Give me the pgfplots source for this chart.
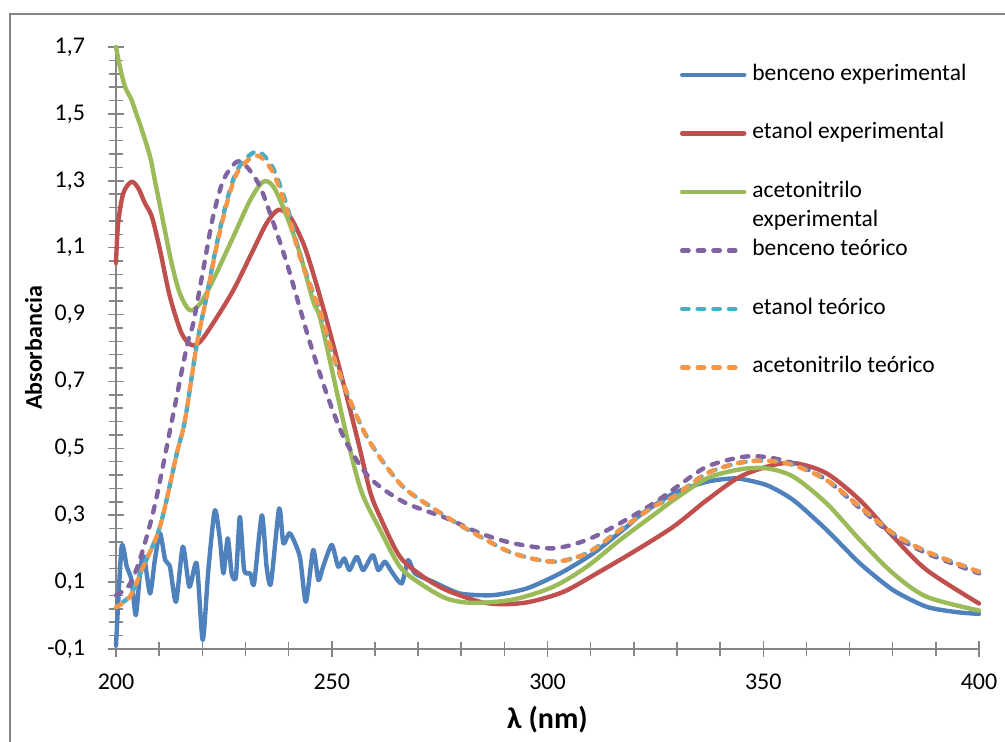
\documentclass[border=0pt]{standalone}
\usepackage{fontspec}
\setmainfont{Carlito}
\usepackage{pgfplots}
\pgfplotsset{compat=1.18}

\definecolor{cblue}{HTML}{4F81BD}
\definecolor{cred}{HTML}{C0504D}
\definecolor{cgreen}{HTML}{9BBB59}
\definecolor{cpurple}{HTML}{8064A2}
\definecolor{cteal}{HTML}{4BACC6}
\definecolor{corange}{HTML}{F79646}
\definecolor{axgray}{HTML}{868686}

\newcommand{\tickfont}{\fontsize{12bp}{14bp}\selectfont}
\newcommand{\legfont}{\fontsize{11.75bp}{14bp}\selectfont}

\begin{document}
\begin{tikzpicture}
% page = 1005x742 px at 0.5bp per px, origin at the axis corner
\path[use as bounding box] (-58bp,-46.5bp) rectangle (444.5bp,324.5bp);
\draw[axgray, line width=0.75bp] (-53bp,-47bp) -- (-53bp,317.5bp) -- (445bp,317.5bp);

\begin{axis}[
    at={(0bp,0bp)}, anchor=south west,
    scale only axis, width=431.5bp, height=301bp,
    xmin=200, xmax=400, ymin=-0.1, ymax=1.7,
    clip=false,
    axis x line*=bottom, axis y line*=left,
    axis line style={draw=axgray, line width=0.75bp},
    tick style={draw=axgray, line width=0.75bp},
    tick align=center,
    major tick length=8bp, minor tick length=7bp,
    xtick={200,250,300,350,400}, minor x tick num=4,
    ytick={-0.1,0.1,0.3,0.5,0.7,0.9,1.1,1.3,1.5,1.7}, minor y tick num=4,
    tick label style={font=\tickfont},
    /pgf/number format/assume math mode=true,
    xticklabel style={yshift=-5bp},
    yticklabel style={xshift=-8bp, /pgf/number format/.cd, fixed, fixed zerofill, precision=1, use comma},
    xlabel={λ (nm)},
    xlabel style={font=\fontsize{15bp}{17bp}\selectfont\bfseries,
                  at={(axis description cs:0.5,-0.1180)}, anchor=center},
    ylabel={Absorbancia},
    ylabel style={font=\fontsize{12bp}{14bp}\selectfont\bfseries,
                  at={(axis description cs:-0.0955,0.5)}, anchor=center},
    every axis plot/.append style={line width=2.2bp, line join=round, line cap=round},
    legend cell align=left,
    legend image code/.code={\draw[#1] (0bp,0bp) -- (31bp,0bp);},
    legend style={draw=none, fill=none, inner sep=0pt, outer sep=0pt,
                  row sep=0pt, column sep=3bp, font=\legfont,
                  at={(axis description cs:0.6535,1.0021)}, anchor=north west,
                  nodes={inner sep=0pt, text height=17.3bp, text depth=11.95bp}},
]

% benceno experimental
\addplot[cblue, smooth, tension=0.4] coordinates {
  (200,-0.09) (201.3,0.206) (202.5,0.146) (203.6,0.106) (204.6,0.001)
  (205.7,0.146) (206.5,0.176) (207.9,0.066) (209.0,0.166) (210.2,0.246)
  (211.4,0.166) (212.5,0.146) (213.9,0.041) (215.5,0.206) (217.0,0.086)
  (218.7,0.156) (220.1,-0.073) (221.4,0.136) (222.9,0.315) (224.1,0.226)
  (224.9,0.126) (225.9,0.231) (226.8,0.126) (227.8,0.116) (228.7,0.295)
  (229.7,0.136) (231.1,0.126) (232.0,0.096) (233.8,0.300) (234.9,0.146)
  (235.9,0.096) (237.8,0.320) (238.8,0.216) (240.3,0.246) (242.6,0.176)
  (244.0,0.041) (245.7,0.196) (246.9,0.106) (248.0,0.146) (250.0,0.211)
  (251.5,0.146) (252.9,0.171) (254.1,0.136) (255.8,0.176) (257.3,0.136)
  (259.5,0.181) (260.8,0.136) (262.3,0.161) (263.9,0.131) (266.2,0.096)
  (267.7,0.166) (269.3,0.126) (273.5,0.101) (279.7,0.066) (287.4,0.061)
  (295.2,0.081) (302.9,0.126) (310.6,0.186) (318.4,0.266) (321.4,0.300)
  (329.2,0.365) (336.9,0.400) (343.8,0.410) (350.8,0.390) (357.0,0.345)
  (364.7,0.256) (372.4,0.156) (380.1,0.076) (387.9,0.026) (395,0.010) (400,0.005)
};
\addlegendentry{benceno experimental}

% etanol experimental
\addplot[cred, smooth] coordinates {
  (200,1.054) (200.5,1.173) (201.7,1.263) (203.6,1.297) (205.2,1.277)
  (206.7,1.233) (208.3,1.193) (210.2,1.093) (212.5,0.953) (215.2,0.844)
  (217.5,0.809) (219.5,0.819) (222.5,0.874) (227.2,0.973) (231.8,1.093)
  (234.9,1.173) (237.6,1.213) (240.3,1.193) (243.4,1.113) (245.7,1.023)
  (248.8,0.884) (252.7,0.694) (256.2,0.515) (258.9,0.370) (261.2,0.295)
  (265.8,0.176) (271.2,0.116) (276.6,0.076) (284.4,0.041) (289.8,0.034)
  (295.9,0.041) (303.7,0.071) (311.4,0.126) (320.5,0.195) (329.2,0.266)
  (336.9,0.345) (344.6,0.415) (352.3,0.450) (357.7,0.455) (364.7,0.425)
  (372.4,0.345) (380.1,0.236) (387.9,0.136) (400,0.036)
};
\addlegendentry{etanol experimental}

% acetonitrilo experimental
\addplot[cgreen, smooth] coordinates {
  (200,1.70) (200.9,1.641) (202.1,1.581) (203.6,1.542) (204.4,1.512)
  (206.0,1.452) (207.9,1.372) (209.0,1.302) (211.0,1.173) (212.9,1.053)
  (214.8,0.963) (217.1,0.913) (219.5,0.933) (222.5,1.003) (227.2,1.133)
  (231.1,1.242) (234.1,1.297) (236.5,1.282) (239.6,1.193) (242.6,1.083)
  (245.7,0.940) (247.3,0.890) (250.4,0.714) (253.5,0.535) (256.9,0.370)
  (261.2,0.256) (265.8,0.146) (270.5,0.096) (276.6,0.051) (282.8,0.038)
  (292.1,0.048) (301.3,0.086) (309.1,0.146) (316.8,0.226) (324.5,0.300)
  (329.2,0.345) (336.9,0.410) (344.6,0.437) (350.8,0.440) (357.0,0.415)
  (364.7,0.335) (372.4,0.226) (380.1,0.126) (387.9,0.056) (400,0.015)
};
\addlegendentry{\rlap{\raisebox{-14.5bp}[0pt][0pt]{experimental}}acetonitrilo}

% benceno teórico
\addplot[cpurple, smooth, dash pattern=on 3.2bp off 4.6bp] coordinates {
  (200,0.060) (203,0.090) (205.6,0.170) (209.0,0.330) (213.0,0.585)
  (216.4,0.804) (217.9,0.874) (220.2,1.033) (222.5,1.193) (224.9,1.302)
  (228.0,1.357) (230.3,1.342) (233.4,1.282) (236.5,1.173) (239.6,1.053)
  (242.6,0.920) (245.0,0.814) (248.8,0.664) (252.7,0.535) (257.3,0.435)
  (261.2,0.385) (267.4,0.335) (276.6,0.291) (284.4,0.246) (292.1,0.216)
  (301.3,0.201) (309.1,0.226) (316.8,0.276) (324.5,0.335) (330.0,0.385)
  (336.9,0.445) (344.6,0.473) (350.0,0.475) (357.0,0.455) (364.7,0.405)
  (372.4,0.321) (380.1,0.241) (387.9,0.186) (400,0.126)
};
\addlegendentry{benceno teórico}

% etanol teórico
\addplot[cteal, smooth, dash pattern=on 3.2bp off 4.6bp, dash phase=3.9bp, forget plot] coordinates {
  (200,0.030) (203.2,0.058) (206.3,0.146) (210.2,0.266) (214.1,0.485)
  (216.0,0.585) (218.7,0.809) (221.0,0.955) (223.3,1.108) (225.7,1.240)
  (228.0,1.330) (231.1,1.378) (233.4,1.385) (236.5,1.335) (239.6,1.225)
  (242.6,1.080) (245.7,0.965) (247.3,0.910) (250.4,0.774) (254.2,0.644)
  (258.1,0.535) (262.7,0.445) (267.4,0.375) (276.6,0.295) (284.4,0.236)
  (292.1,0.186) (301.3,0.161) (309.1,0.186) (316.8,0.256) (324.5,0.325)
  (329.2,0.355) (336.9,0.425) (344.6,0.457) (350.8,0.463) (357.0,0.450)
  (364.7,0.405) (372.4,0.325) (380.1,0.246) (387.9,0.191) (400,0.131)
};
\addlegendimage{cteal, line width=2.2bp, line cap=round, dash pattern=on 3.2bp off 4.6bp}
\addlegendentry{etanol teórico}

% acetonitrilo teórico
\addplot[corange, smooth, dash pattern=on 3.2bp off 4.6bp] coordinates {
  (200,0.025) (203.2,0.056) (206.3,0.146) (210.2,0.266) (214.1,0.485)
  (216.0,0.585) (218.7,0.809) (221.0,0.953) (223.3,1.103) (225.7,1.233)
  (228.0,1.322) (231.1,1.367) (233.4,1.372) (236.5,1.322) (239.6,1.213)
  (242.6,1.073) (245.7,0.963) (247.3,0.910) (250.4,0.774) (254.2,0.644)
  (258.1,0.535) (262.7,0.445) (267.4,0.375) (276.6,0.295) (284.4,0.236)
  (292.1,0.186) (301.3,0.161) (309.1,0.186) (316.8,0.256) (324.5,0.325)
  (329.2,0.355) (336.9,0.425) (344.6,0.457) (350.8,0.463) (357.0,0.450)
  (364.7,0.405) (372.4,0.325) (380.1,0.246) (387.9,0.191) (400,0.131)
};
\addlegendentry{acetonitrilo teórico}

\end{axis}
\end{tikzpicture}
\end{document}
